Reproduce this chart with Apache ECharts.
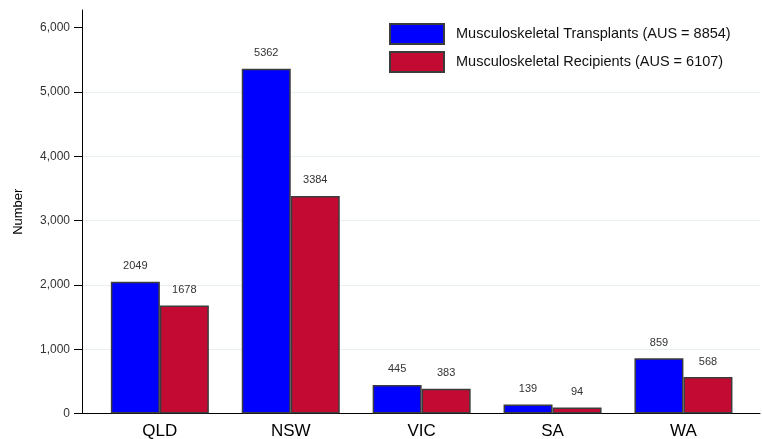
<!DOCTYPE html>
<html><head><meta charset="utf-8">
<script src="https://cdn.jsdelivr.net/npm/echarts@6/dist/echarts.min.js"></script>
<style>html,body{margin:0;padding:0;background:#fff}#c{width:762px;height:439px}</style>
</head><body><div id="c"></div>
<script>
const categories = ['QLD', 'NSW', 'VIC', 'SA', 'WA'];
const transplants = [2049, 5362, 445, 139, 859];
const recipients = [1678, 3384, 383, 94, 568];
const seriesNames = ['Musculoskeletal Transplants (AUS = 8854)', 'Musculoskeletal Recipients (AUS = 6107)'];
const yTicks = [0, 1000, 2000, 3000, 4000, 5000, 6000];
const yMax = 6275;

const chart = echarts.init(document.getElementById('c'), null, {renderer: 'canvas'});
const labelStyle = {show: true, position: 'top', distance: 10, fontSize: 11, color: '#333', fontFamily: 'Liberation Sans, Arial, sans-serif'};
chart.setOption({
  animation: false,
  textStyle: {fontFamily: 'Liberation Sans, Arial, sans-serif'},
  legend: {
    orient: 'vertical', left: 384, top: 18, itemWidth: 54, itemHeight: 20, itemGap: 6,
    icon: 'rect',
    textStyle: {fontSize: 14.5, color: '#111', padding: [0, 0, 0, 7]},
    data: seriesNames
  },
  grid: [
    {left: 94.4, right: 13.1, top: 10, bottom: 25.5, containLabel: false, outerBoundsMode: 'none'},
    {left: 82, right: 2, top: 10, bottom: 25.5, containLabel: false, outerBoundsMode: 'none'}
  ],
  xAxis: [
    {type: 'category', gridIndex: 0, data: categories,
     axisLine: {show: false}, axisTick: {show: false},
     axisLabel: {fontSize: 17, color: '#000', margin: 9}},
    {type: 'value', gridIndex: 1, min: 0, max: 1,
     axisLine: {show: true, lineStyle: {color: '#000', width: 1}},
     axisTick: {show: false}, axisLabel: {show: false}, splitLine: {show: false}}
  ],
  yAxis: [
    {type: 'value', gridIndex: 0, min: 0, max: yMax, show: false, splitLine: {show: false}},
    {type: 'value', gridIndex: 1, min: 0, max: yMax, interval: 1000,
     name: 'Number', nameLocation: 'middle', nameGap: 57, nameRotate: 90,
     nameTextStyle: {fontSize: 13, color: '#000'},
     axisLine: {show: true, lineStyle: {color: '#000', width: 1}},
     axisTick: {show: true, length: 8, lineStyle: {color: '#000'}, customValues: yTicks},
     axisLabel: {fontSize: 12, color: '#333', margin: 12, customValues: yTicks,
       formatter: v => v.toLocaleString('en-US')},
     splitLine: {show: true, showMaxLine: false, showMinLine: false, lineStyle: {color: '#e8f0f0', width: 1}}}
  ],
  series: [
    {name: seriesNames[0], type: 'bar', xAxisIndex: 0, yAxisIndex: 0, data: transplants,
     barWidth: 49, barGap: '0%',
     itemStyle: {color: '#0000ff', borderColor: '#3c3c3c', borderWidth: 1.5},
     label: labelStyle},
    {name: seriesNames[1], type: 'bar', xAxisIndex: 0, yAxisIndex: 0, data: recipients,
     barWidth: 49, barGap: '0%',
     itemStyle: {color: '#c20a33', borderColor: '#3c3c3c', borderWidth: 1.5},
     label: labelStyle}
  ]
});
</script></body></html>
